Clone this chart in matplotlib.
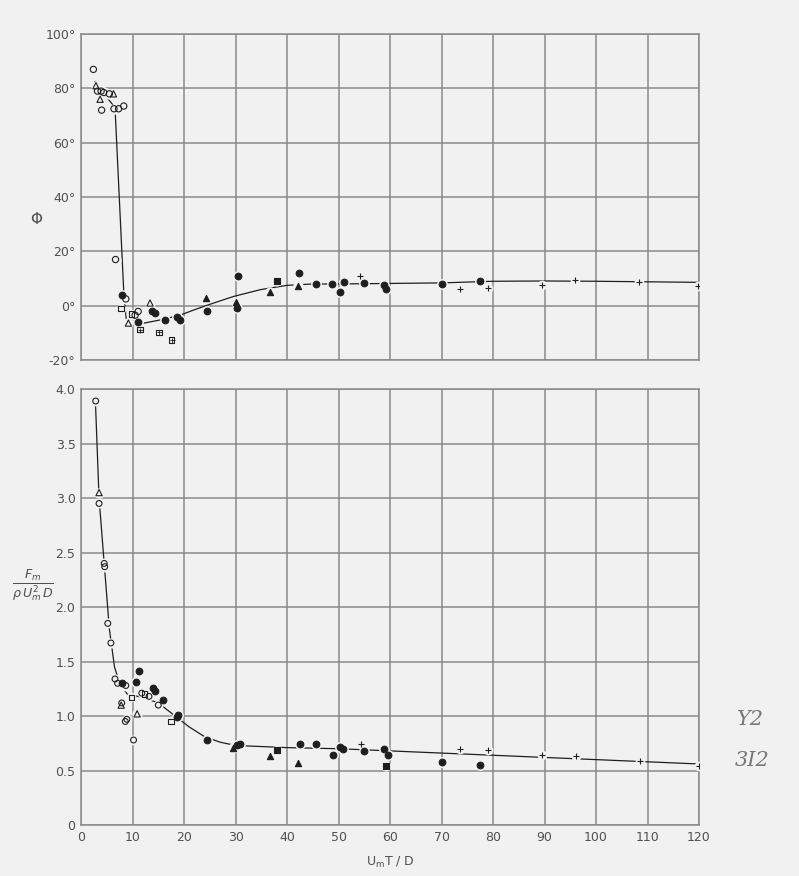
import numpy as np
import matplotlib
matplotlib.use("Agg")
import matplotlib.pyplot as plt

BG = "#f1f1f1"
INK = "#1e1e1e"
GRID = "#8a8a8a"
TXT = "#505050"

# ---- phase angle (top panel), degrees ----
phi_open_circ_x = [2.4, 3.2, 3.9, 4.4, 4.0, 5.5, 6.4, 7.3, 8.3, 6.7, 8.7, 10.5, 11.1]
phi_open_circ_y = [87, 79, 79, 78.5, 72, 78, 72.5, 72.5, 73.5, 17, 2.5, -3.5, -2.1]
phi_open_tri_x = [2.9, 3.7, 6.3, 9.2, 13.4]
phi_open_tri_y = [81, 76, 78, -6.4, 1.0]
phi_open_sq_x = [7.8, 9.8]
phi_open_sq_y = [-1.1, -3.0]
phi_cross_sq_x = [11.5, 15.1, 17.6]
phi_cross_sq_y = [-8.8, -9.8, -12.7]
phi_fill_circ_x = [7.9, 11.1, 13.8, 14.4, 16.3, 18.6, 19.2, 24.5, 30.2, 30.5,
                   42.4, 45.6, 48.8, 50.3, 51.1, 55.0, 58.9, 59.2, 70.0, 77.5]
phi_fill_circ_y = [4, -6.1, -1.8, -2.5, -5.4, -4.2, -5.2, -2, -1, 10.8,
                   12, 8.1, 7.9, 5.0, 8.9, 8.3, 7.6, 6.0, 8.1, 9.2]
phi_fill_tri_x = [24.2, 30.1, 36.7, 42.2]
phi_fill_tri_y = [3.0, 1.5, 4.9, 7.1]
phi_fill_sq_x = [38.1]
phi_fill_sq_y = [9.2]
phi_plus_x = [54.2, 73.5, 79.1, 89.6, 95.9, 108.4, 119.7]
phi_plus_y = [11, 6.0, 6.4, 7.8, 9.6, 8.7, 7.2]

# faired curve through the phase data
phi_curve_x = [2.7, 4.0, 6.6, 8.3, 8.9, 12, 16, 19.5, 22, 25, 29.6, 34.8, 40,
               45, 50, 60, 70, 80, 90, 100, 110, 120]
phi_curve_y = [82.5, 79, 73, 5, -7.4, -6.5, -5, -3.3, -1.5, 0.5, 3.4, 5.9, 7.5,
               8, 8, 8.2, 8.4, 9.0, 9.1, 9.0, 8.8, 8.6]

# ---- force coefficient (bottom panel) ----
fm_open_circ_x = [2.85, 3.5, 4.5, 4.6, 5.2, 5.8, 6.6, 7.1, 8.7, 7.9, 8.6, 8.9,
                  10.2, 11.8, 13.2, 15.0]
fm_open_circ_y = [3.89, 2.95, 2.40, 2.37, 1.85, 1.67, 1.34, 1.30, 1.28, 1.12,
                  0.95, 0.97, 0.78, 1.21, 1.18, 1.10]
fm_open_tri_x = [3.5, 10.9, 7.8]
fm_open_tri_y = [3.05, 1.02, 1.10]
fm_open_sq_x = [9.8, 12.3, 17.5]
fm_open_sq_y = [1.17, 1.20, 0.95]
fm_fill_circ_x = [7.9, 10.7, 11.3, 14.0, 14.3, 16.0, 18.6, 18.9, 24.5, 30.2,
                  30.9, 42.5, 45.6, 48.9, 50.3, 50.9, 55.0, 58.9, 59.7, 70.0, 77.5]
fm_fill_circ_y = [1.30, 1.31, 1.41, 1.26, 1.23, 1.15, 0.99, 1.01, 0.78, 0.73,
                  0.74, 0.74, 0.74, 0.64, 0.72, 0.70, 0.68, 0.70, 0.64, 0.58, 0.55]
fm_fill_tri_x = [29.6, 36.7, 42.1]
fm_fill_tri_y = [0.71, 0.63, 0.57]
fm_fill_sq_x = [38.1, 59.2]
fm_fill_sq_y = [0.69, 0.54]
fm_plus_x = [54.3, 73.5, 79.0, 89.6, 96.1, 108.5, 119.9]
fm_plus_y = [0.74, 0.70, 0.69, 0.64, 0.635, 0.59, 0.54]

fm_curve_x = [2.8, 3.5, 4.5, 5.5, 6.5, 7.5, 9, 12, 15, 18, 21, 24, 27, 30, 35,
              40, 50, 60, 70, 80, 90, 100, 110, 120]
fm_curve_y = [3.88, 3.0, 2.4, 1.8, 1.45, 1.3, 1.2, 1.17, 1.12, 1.01, 0.9, 0.81,
              0.76, 0.73, 0.72, 0.71, 0.70, 0.68, 0.66, 0.64, 0.62, 0.60, 0.58, 0.56]

xticks = list(range(0, 130, 10))
phi_ticks = [-20, 0, 20, 40, 60, 80, 100]
fm_ticks = [0, 0.5, 1.0, 1.5, 2.0, 2.5, 3.0, 3.5, 4.0]

fig = plt.figure(figsize=(7.99, 8.76), dpi=100, facecolor=BG)
ax1 = fig.add_axes([0.1014, 0.589, 0.7735, 0.3721], facecolor=BG)
ax2 = fig.add_axes([0.1014, 0.0582, 0.7735, 0.4977], facecolor=BG)


def style_axes(ax):
    ax.set_xlim(0, 120)
    ax.set_xticks(xticks)
    ax.grid(True, color=GRID, lw=1.1)
    ax.tick_params(length=0, colors=TXT, labelsize=9, pad=4)
    for s in ax.spines.values():
        s.set_color(GRID)
        s.set_linewidth(1.1)
    ax.set_axisbelow(True)


def draw_points(ax, sets):
    # a background-coloured blob behind each mark breaks the curve around it
    for xs, ys, m, filled, size in sets:
        ax.scatter(xs, ys, s=(size + 3) ** 2, marker="o", color=BG, lw=0, zorder=3)
    for xs, ys, m, filled, size in sets:
        if m == "+":
            ax.scatter(xs, ys, s=size ** 2, marker="+", color=INK, lw=0.8, zorder=4)
        elif m == "x_sq":
            ax.scatter(xs, ys, s=size ** 2, marker="s", facecolor="none",
                       edgecolor=INK, lw=0.8, zorder=4)
            ax.scatter(xs, ys, s=(size * 0.9) ** 2, marker="+", color=INK, lw=0.6, zorder=4)
        else:
            ax.scatter(xs, ys, s=size ** 2, marker=m,
                       facecolor=INK if filled else "none",
                       edgecolor=INK, lw=0.8, zorder=4)


# top: phase angle
style_axes(ax1)
ax1.set_ylim(-20, 100)
ax1.set_yticks(phi_ticks)
ax1.set_yticklabels([f"{t}°" for t in phi_ticks])
ax1.set_xticklabels([])
ax1.plot(phi_curve_x, phi_curve_y, color=INK, lw=0.9, zorder=2)
draw_points(ax1, [
    (phi_open_circ_x, phi_open_circ_y, "o", False, 4.5),
    (phi_open_tri_x, phi_open_tri_y, "^", False, 4.5),
    (phi_open_sq_x, phi_open_sq_y, "s", False, 4),
    (phi_cross_sq_x, phi_cross_sq_y, "x_sq", False, 4),
    (phi_fill_circ_x, phi_fill_circ_y, "o", True, 4.8),
    (phi_fill_tri_x, phi_fill_tri_y, "^", True, 4.5),
    (phi_fill_sq_x, phi_fill_sq_y, "s", True, 4.2),
    (phi_plus_x, phi_plus_y, "+", False, 4),
])
ax1.text(-0.072, 0.43, "Φ", transform=ax1.transAxes, ha="center", va="center",
         fontsize=11, color=TXT)

# bottom: force coefficient
style_axes(ax2)
ax2.set_ylim(0, 4.0)
ax2.set_yticks(fm_ticks)
ax2.set_yticklabels(["0"] + [f"{t:.1f}" for t in fm_ticks[1:]])
ax2.plot(fm_curve_x, fm_curve_y, color=INK, lw=0.9, zorder=2)
draw_points(ax2, [
    (fm_open_circ_x, fm_open_circ_y, "o", False, 4.2),
    (fm_open_tri_x, fm_open_tri_y, "^", False, 4.5),
    (fm_open_sq_x, fm_open_sq_y, "s", False, 4),
    (fm_fill_circ_x, fm_fill_circ_y, "o", True, 4.8),
    (fm_fill_tri_x, fm_fill_tri_y, "^", True, 4.5),
    (fm_fill_sq_x, fm_fill_sq_y, "s", True, 4.2),
    (fm_plus_x, fm_plus_y, "+", False, 4),
])
ax2.set_xlabel(r"U$_\mathregular{m}$T / D", color=TXT, fontsize=9, labelpad=8)
ax2.text(-0.078, 0.55, r"$\frac{F_m}{\rho\, U_m^2\, D}$", transform=ax2.transAxes,
         ha="center", va="center", fontsize=13, color=TXT)

# pencil notes in the right margin
fig.text(0.922, 0.172, "Y2", fontsize=15, color="#777777", style="italic",
         family="DejaVu Serif")
fig.text(0.92, 0.125, "3I2", fontsize=15, color="#777777", style="italic",
         family="DejaVu Serif")

fig.savefig("out.png", dpi=100, facecolor=BG)
